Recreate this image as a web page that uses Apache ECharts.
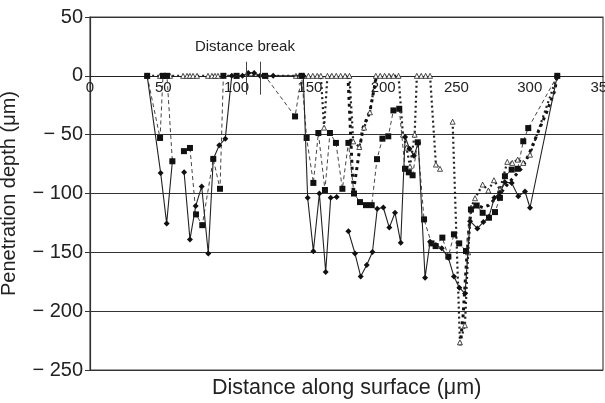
<!DOCTYPE html>
<html><head><meta charset="utf-8">
<script src="https://cdn.jsdelivr.net/npm/echarts@6/dist/echarts.min.js"></script>
<style>html,body{margin:0;padding:0;background:#fff}#c{width:605px;height:403px}</style>
</head><body><div id="c"></div>
<script>
// Solid line with diamonds (null = gap)
const solidX = [39,48.2,52.3,56.2,60,64.2,68.2,72.1,76.2,80.7,84.1,88.2,92.3,96.7,104,108,112,116,125,145.5,148.5,152.4,156.5,160.8,164.2,168.3,172,176.3,180.8,184.7,188.8,192.7,196,200.1,204.2,208.1,212,215,218,221,224,228.6,232,236,240,244.5,248.3,252,255.9,259.3,264.3,268.4,272.2,275.9,279.7,283.1,287.7,292.2,296.8,300.2,318.8];
const solidY = [0,-82.5,-125.4,-72.6,null,-82,-139,-110.7,-94,-151,-70.6,-59,-53.4,0,0,2.5,2.5,0,0,0,-103.7,-149,-100,-166.7,-103.7,-103,null,-132,-151,-170.6,-160.7,-149.7,-113,-111.9,-129,-116.4,-141.8,-52,-62,-68,-57,-171.5,-141,-143.8,-146.6,-154.5,-170.6,-180,-185,-123.5,-129.7,-124.3,-119.7,-103.7,-99.4,-90.4,-91,-102.3,-98.3,-112.1,0];
// Dashed line with filled squares
const squareX = [39,47.8,49.8,52.5,56.2,60,64.1,68.2,72.3,76.6,84.1,88.7,91,100,119.4,139.9,144.4,147.8,152.4,155.8,160.3,163.7,167.8,172.2,176.3,180.1,184.2,188.3,192.2,195.8,199.5,203.5,207,211,214.9,217.5,220.1,223.6,227.9,233,235.8,240.4,244.5,248.3,251.9,256.5,259.9,263.8,267.9,272.2,276.3,279.7,283.1,287.7,291.8,295.6,299,318.8];
const squareY = [0,-52.8,0,0,-72.6,null,-64,-61.3,-117.8,-126.9,-70.6,-96,0,0,0,-34.5,0,-52.8,-91,-48.6,-97,-48.6,-57,-96,-57,-100,-107.3,-109.9,-109.9,-70.8,-53.4,-51.4,-29.4,-28,-79,-82,-84.5,-56.5,-122,-142.4,-144.7,-137.5,-153.6,-134.7,-142.4,-148.9,-113.6,-110.2,-116.4,-120.6,-115.8,-103.7,-85.3,-79.7,-79,-55.6,-44.4,0];
// Dotted line with open triangles
const triX = [39,47.8,49.8,52.5,54.6,63.5,66.2,68.2,70.3,73,80.5,83.2,85.3,87.3,100,120,140.5,143,146,149,152,155,157.5,159.7,162,165,168,171,174,177,179.6,183.7,187,191,195,198,201,204,207,210.5,213.5,216,218.3,221.5,223,226,229,232,236,238.8,243,247.4,252.4,255.8,258,260,262.7,267.9,271.8,275.6,279.7,284.7,288.1,291.8,295.6,300.2,318.8];
const triY = [0,0,0,0,0,0,0,0,0,0,0,0,0,0,0,0,0,0,0,0,0,0,0,-44,0,0,0,0,0,0,-55.7,-60.5,-44,-31,0,0,0,0,0,0,-50,-61,-77,-50,0,0,0,0,-75.4,-79,null,-39,-226.5,-212,-150,-112,-104,-92.4,-97.5,-88.7,-96.6,-73.1,-74,-71.2,-74,-67,0];
// Heavy dotted line, no markers
const dotX = [176,179.6,186,191,195.5,null,252.5,254.5,256.5,258.5,260,264,268,272,276,280,285,290,295,299,306,311.5,317,318.8];
const dotY = [0,-99.4,-45,-30,0,null,-229,-205,-165,-130,-113,-110,-112,-110,-105,-100,-92,-85,-78,-68,-47,-31,-13,0];
// Distance-break marks
const breakX = [106.8, 116];
const breakY = [12, -16];
const breakLabelPos = [105.7, 24.2];
const yMin = -250, yMax = 50;

function pairs(xs, ys){ return xs.map((x,i)=> (ys[i]===null||x===null) ? [x===null?0:x,'-'] : [x, ys[i]]); }

const GRID = {left:90,right:2,top:17,bottom:33};
const plotH = 403 - GRID.top - GRID.bottom;
const zeroOffset = -plotH * (0 - yMin) / (yMax - yMin);

const chart = echarts.init(document.getElementById('c'), null, {renderer:'canvas'});
const FONT = '"Liberation Sans", Arial, Helvetica, sans-serif';
chart.setOption({
  animation:false,
  backgroundColor:'#fff',
  grid:Object.assign({show:true,borderColor:'#444',borderWidth:1.2,outerBoundsMode:'none',containLabel:false},GRID),
  xAxis:{type:'value',min:0,max:350,interval:50,position:'bottom',offset:zeroOffset,
    axisLine:{onZero:false,lineStyle:{color:'#222',width:1.2}},
    axisTick:{show:false},splitLine:{show:false},
    axisLabel:{color:'#222',fontSize:15,fontFamily:FONT,margin:5,showMaxLabel:true,hideOverlap:false}},
  yAxis:{type:'value',min:yMin,max:yMax,interval:50,
    name:'Penetration depth (μm)',nameLocation:'middle',nameGap:71,
    nameTextStyle:{color:'#222',fontSize:20,fontFamily:FONT},
    axisLine:{show:true,lineStyle:{color:'#333',width:1.2}},
    axisTick:{show:true,length:5,lineStyle:{color:'#333'}},
    splitLine:{show:true,lineStyle:{color:'#333',width:1.2}},
    axisLabel:{color:'#222',fontSize:20,fontFamily:FONT,margin:7,
      formatter:v=> v<0 ? '\u2212 '+Math.abs(v) : String(v)}},
  graphic:[{type:'text',left:212,top:377,style:{text:'Distance along surface (μm)',fill:'#222',font:'21.5px '+FONT}}],
  series:[
    {type:'line',data:pairs(solidX,solidY),symbol:'diamond',symbolSize:6,
     itemStyle:{color:'#111'},lineStyle:{color:'#222',width:1.1},connectNulls:false,z:4,
     markLine:{silent:true,symbol:'none',label:{show:false},lineStyle:{color:'#444',width:1,type:'solid'},
       data:breakX.map(x=>[{coord:[x,breakY[0]]},{coord:[x,breakY[1]]}])},
     markPoint:{symbol:'circle',symbolSize:0,data:[{coord:breakLabelPos}],
       label:{show:true,formatter:'Distance break',color:'#222',fontSize:15,fontFamily:FONT,position:'inside'}}},
    {type:'line',data:pairs(squareX,squareY),symbol:'rect',symbolSize:6,
     itemStyle:{color:'#111'},lineStyle:{color:'#444',width:1,type:[4,3]},connectNulls:false,z:3},
    {type:'line',data:pairs(triX,triY),symbol:'triangle',symbolSize:5,
     itemStyle:{color:'#fff',borderColor:'#222',borderWidth:0.8},lineStyle:{color:'#222',width:2.2,type:[2,3]},connectNulls:false,z:2},
    {type:'line',data:pairs(dotX,dotY),symbol:'none',
     lineStyle:{color:'#111',width:3,type:[3,4]},connectNulls:false,z:2}
  ]
});
</script></body></html>
